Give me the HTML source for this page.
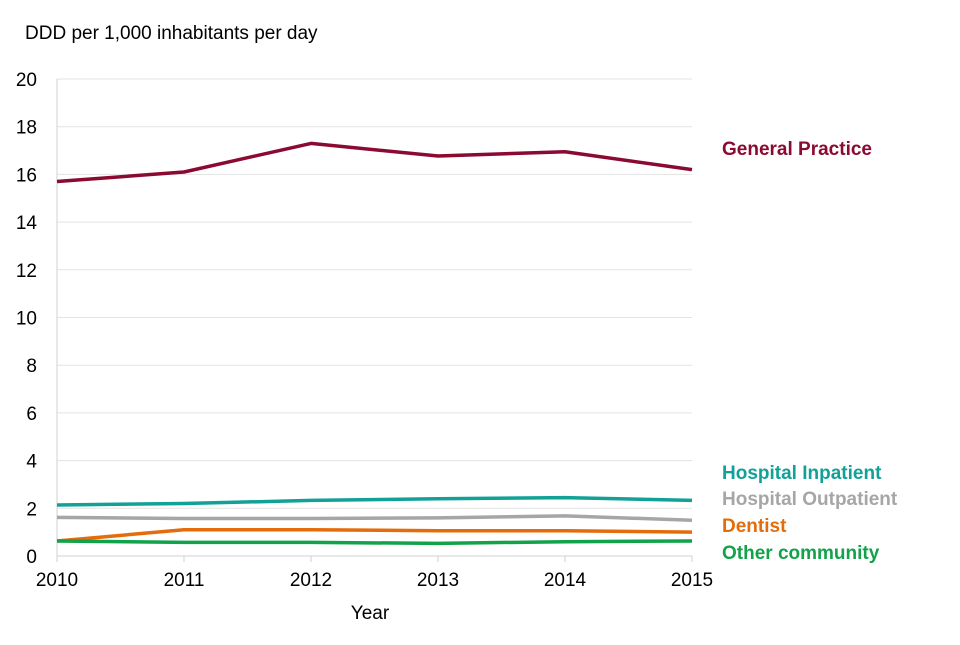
<!DOCTYPE html>
<html><head><meta charset="utf-8"><style>
body{margin:0;background:#fff;font-family:"Liberation Sans",Arial,sans-serif}
svg text{font-family:"Liberation Sans",Arial,sans-serif}
</style></head><body>
<svg id="chart" width="960" height="640"></svg>
<script>
const years=[2010,2011,2012,2013,2014,2015];
const gp=[15.7,16.1,17.3,16.77,16.95,16.2];
const inpatient=[2.14,2.2,2.33,2.4,2.45,2.33];
const outpatient=[1.62,1.57,1.57,1.6,1.68,1.5];
const dentist=[0.63,1.1,1.1,1.06,1.06,1.0];
const other=[0.63,0.57,0.57,0.53,0.6,0.63];
const yTicks=[0,2,4,6,8,10,12,14,16,18,20];
const seriesNames=["General Practice","Hospital Inpatient","Hospital Outpatient","Dentist","Other community"];
const NS="http://www.w3.org/2000/svg";
const svg=document.getElementById('chart');
const x0=57,x1=692,y0=556,y1=79;
const xS=v=>x0+(v-years[0])/(years[years.length-1]-years[0])*(x1-x0);
const yS=v=>y0-v/20*(y0-y1);
function mk(t,a){const e=document.createElementNS(NS,t);for(const k in a)e.setAttribute(k,a[k]);svg.appendChild(e);return e;}
yTicks.forEach(t=>{
 if(t>0){const g=mk('line',{x1:x0,x2:x1,y1:yS(t),y2:yS(t),stroke:'#e3e3e3','stroke-width':1});
 
 }
 const l=mk('text',{x:x0-20,y:yS(t)+7,'text-anchor':'end','font-size':19,fill:'#000'});l.textContent=t;
 
 
});
const ax=mk('line',{x1:x0,x2:x0,y1:y1,y2:y0,stroke:'#d0d0d0','stroke-width':1});


const bx=mk('line',{x1:x0,x2:x1,y1:y0,y2:y0,stroke:'#d0d0d0','stroke-width':1});


years.forEach(yr=>{
 const tk=mk('line',{x1:xS(yr),x2:xS(yr),y1:y0,y2:y0+6,stroke:'#d0d0d0'});
 
 
 const l=mk('text',{x:xS(yr),y:y0+30,'text-anchor':'middle','font-size':19,fill:'#000'});l.textContent=yr;
 
 
});
const yt=mk('text',{x:25,y:39,'font-size':19,fill:'#000'});yt.textContent='DDD per 1,000 inhabitants per day';


const xt=mk('text',{x:370,y:619,'text-anchor':'middle','font-size':19,fill:'#000'});xt.textContent='Year';


const series=[[gp,'#8b0a32',155],[inpatient,'#12a197',479],[outpatient,'#a6a6a6',505],[dentist,'#e46c0a',532],[other,'#12a34a',559]];
series.forEach((s,i)=>{
 const p=mk('polyline',{points:years.map((yr,j)=>xS(yr)+','+yS(s[0][j])).join(' '),fill:'none',stroke:s[1],'stroke-width':3.5,'stroke-linejoin':'round'});
 
 
 const l=mk('text',{x:722,y:s[2],'font-size':19,'font-weight':'bold',fill:s[1]});l.textContent=seriesNames[i];
 
 
});
</script>
</body></html>
